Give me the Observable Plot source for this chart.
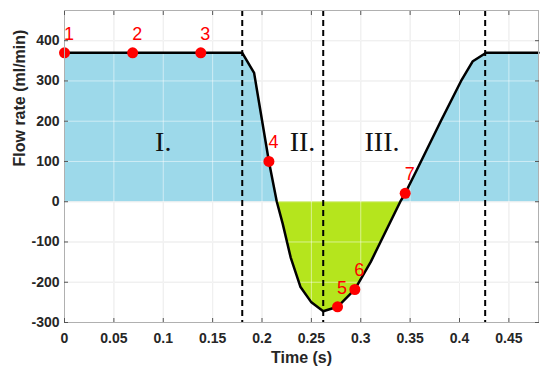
<!DOCTYPE html>
<html><head><meta charset="utf-8">
<script src="https://cdn.jsdelivr.net/npm/d3@7"></script>
<script src="https://cdn.jsdelivr.net/npm/@observablehq/plot@0.6"></script>
<style>body{margin:0;background:#fff} svg{display:block}</style>
</head><body><div id="chart"></div>
<script>
// Flow curve (time in s, flow rate in ml/min)
const times = [0, 0.069, 0.138, 0.18, 0.192, 0.207, 0.215, 0.221, 0.229, 0.239, 0.25, 0.262, 0.2765, 0.294, 0.31, 0.34, 0.345, 0.357, 0.381, 0.4016, 0.4135, 0.427, 0.48];
const flow  = [370, 370, 370, 370, 320, 100, 0, -55, -138, -212, -250, -272, -261, -218, -150, 0, 21, 80, 200, 300, 349, 370, 370];

// Numbered sample points
const markerTimes  = [0, 0.069, 0.138, 0.207, 0.2765, 0.294, 0.345];
const markerFlow   = [370, 370, 370, 100, -261, -218, 21];
const markerLabels = ["1", "2", "3", "4", "5", "6", "7"];

// Phase boundaries and phase labels
const phaseBounds     = [0.18, 0.262, 0.426];
const phaseLabels     = ["I.", "II.", "III."];
const phaseLabelTimes = [0.1, 0.241, 0.3215];
const phaseLabelFlow  = [148, 148, 148];

// Axis ticks and titles
const xTicks = [0, 0.05, 0.1, 0.15, 0.2, 0.25, 0.3, 0.35, 0.4, 0.45];
const yTicks = [-300, -200, -100, 0, 100, 200, 300, 400];
const xTitle = "Time (s)";
const yTitle = "Flow rate (ml/min)";

const curve   = times.map((t, i) => ({t, v: flow[i]}));
const markers = markerTimes.map((t, i) => ({t, v: markerFlow[i], label: markerLabels[i]}));
const phases  = phaseLabels.map((s, i) => ({s, t: phaseLabelTimes[i], v: phaseLabelFlow[i]}));

const fmtX = d => String(+d.toFixed(2));
const axisFont = {fontSize: 14, fontWeight: "bold", fill: "#262626"};

const chart = Plot.plot({
  width: 550, height: 376,
  marginLeft: 64, marginRight: 12, marginTop: 10, marginBottom: 54,
  style: {fontFamily: "'Liberation Sans', Arial, sans-serif", background: "#fff", overflow: "visible"},
  x: {domain: [0, 0.48]},
  y: {domain: [-300, 475]},
  marks: [
    Plot.gridX(xTicks, {stroke: "#e0e0e0", strokeOpacity: 1}),
    Plot.gridY(yTicks, {stroke: "#e0e0e0", strokeOpacity: 1}),
    Plot.areaY(curve, {x: "t", y1: 0, y2: d => Math.max(d.v, 0), fill: "#9dd9ea"}),
    Plot.areaY(curve, {x: "t", y1: 0, y2: d => Math.min(d.v, 0), fill: "#b5e51d"}),
    Plot.gridX(xTicks, {stroke: "#fff", strokeOpacity: 0.5}),
    Plot.gridY(yTicks, {stroke: "#fff", strokeOpacity: 0.5}),
    Plot.ruleX(phaseBounds, {stroke: "#000", strokeWidth: 2, strokeDasharray: "6,4"}),
    Plot.line(curve, {x: "t", y: "v", stroke: "#000", strokeWidth: 2.5, strokeLinejoin: "round"}),
    Plot.dot(markers, {x: "t", y: "v", r: 5.5, fill: "#ff0000"}),
    Plot.text(markers, {x: "t", y: "v", text: "label", dx: 4.5, dy: -19, fill: "#ff0000", fontSize: 18}),
    Plot.text(phases, {x: "t", y: "v", text: "s", fontFamily: "'Liberation Serif', 'Times New Roman', serif", fontSize: 28, fill: "#111"}),
    Plot.frame({stroke: "#b0b0b0"}),
    Plot.axisX(xTicks, {anchor: "bottom", tickSize: -4, fill: "none", stroke: "#555", label: null}),
    Plot.axisX(xTicks, {anchor: "top", tickSize: -4, fill: "none", stroke: "#555", label: null}),
    Plot.axisY(yTicks, {anchor: "left", tickSize: -4, fill: "none", stroke: "#555", label: null}),
    Plot.axisY(yTicks, {anchor: "right", tickSize: -4, fill: "none", stroke: "#555", label: null}),
    Plot.axisX(xTicks, {anchor: "bottom", tickSize: 0, tickPadding: 11, tickFormat: fmtX, ...axisFont, label: null}),
    Plot.axisY(yTicks, {anchor: "left", tickSize: 0, tickPadding: 5, tickFormat: d => String(d), ...axisFont, label: null}),
    Plot.text([xTitle], {text: d => d, frameAnchor: "bottom", lineAnchor: "bottom", dy: 40, fontSize: 16, fontWeight: "bold", fill: "#262626"}),
    Plot.text([yTitle], {text: d => d, frameAnchor: "left", lineAnchor: "bottom", rotate: -90, dx: -40, fontSize: 16, fontWeight: "bold", fill: "#262626"})
  ]
});
document.getElementById("chart").appendChild(chart);
</script>
</body></html>
